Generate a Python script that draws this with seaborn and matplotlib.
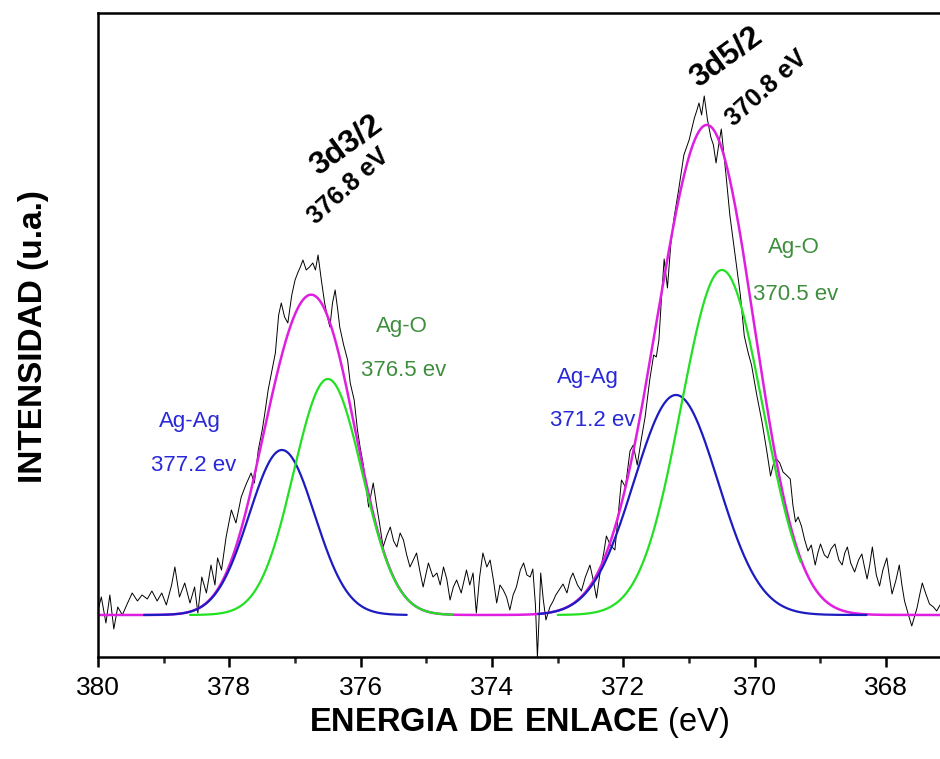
import numpy as np
import pandas as pd
import matplotlib
matplotlib.use("Agg")
import matplotlib.pyplot as plt
from matplotlib.ticker import MultipleLocator
import seaborn as sns

# Measured XPS spectrum (Ag 3d region): binding energy (eV) and intensity (a.u., baseline = 0)
energy = [
    380.00, 379.95, 379.88, 379.82, 379.76, 379.70, 379.63, 379.55, 379.48, 379.40,
    379.33, 379.25, 379.18, 379.10, 379.03, 378.96, 378.88, 378.83, 378.76, 378.68,
    378.60, 378.53, 378.48, 378.42, 378.35, 378.28, 378.22, 378.18, 378.12, 378.05,
    377.97, 377.90, 377.82, 377.75, 377.67, 377.62, 377.56, 377.50, 377.46, 377.41,
    377.36, 377.30, 377.25, 377.21, 377.16, 377.11, 377.05, 377.00, 376.96, 376.92,
    376.88, 376.83, 376.78, 376.73, 376.69, 376.65, 376.60, 376.55, 376.50, 376.47,
    376.43, 376.39, 376.35, 376.32, 376.26, 376.20, 376.16, 376.10, 376.05, 376.01,
    375.96, 375.92, 375.88, 375.84, 375.81, 375.76, 375.71, 375.66, 375.60, 375.55,
    375.50, 375.45, 375.40, 375.35, 375.30, 375.25, 375.20, 375.15, 375.10, 375.05,
    375.01, 374.97, 374.90, 374.84, 374.79, 374.74, 374.69, 374.64, 374.59, 374.54,
    374.47, 374.39, 374.34, 374.29, 374.24, 374.19, 374.14, 374.08, 374.03, 373.98,
    373.93, 373.88, 373.83, 373.78, 373.73, 373.68, 373.63, 373.57, 373.52, 373.47,
    373.42, 373.38, 373.34, 373.31, 373.28, 373.26, 373.22, 373.18, 373.12, 373.07,
    373.03, 372.97, 372.92, 372.86, 372.81, 372.77, 372.70, 372.64, 372.58, 372.51,
    372.46, 372.41, 372.35, 372.30, 372.26, 372.20, 372.13, 372.08, 372.03, 371.97,
    371.90, 371.85, 371.79, 371.73, 371.67, 371.60, 371.54, 371.50, 371.46, 371.42,
    371.38, 371.33, 371.28, 371.23, 371.16, 371.08, 371.00, 370.92, 370.88, 370.85,
    370.81, 370.77, 370.72, 370.67, 370.63, 370.59, 370.55, 370.51, 370.47, 370.44,
    370.38, 370.30, 370.22, 370.16, 370.10, 370.05, 369.97, 369.89, 369.82, 369.76,
    369.72, 369.68, 369.62, 369.57, 369.52, 369.46, 369.42, 369.38, 369.34, 369.29,
    369.24, 369.19, 369.14, 369.08, 369.04, 369.00, 368.94, 368.89, 368.84, 368.78,
    368.72, 368.67, 368.63, 368.59, 368.54, 368.48, 368.42, 368.37, 368.33, 368.29,
    368.25, 368.21, 368.15, 368.10, 368.05, 367.99, 367.95, 367.91, 367.85, 367.80,
    367.76, 367.72, 367.66, 367.61, 367.57, 367.53, 367.49, 367.45, 367.40, 367.34,
    367.28, 367.23, 367.18,
]
intensity = [
    5, 18, -8, 20, -14, 8, 0, 12, 22, 14,
    20, 16, 24, 14, 22, 10, 30, 48, 18, 32,
    12, 28, 2, 38, 22, 50, 30, 57, 45, 78,
    105, 92, 118, 130, 142, 132, 165, 185, 202, 225,
    242, 262, 300, 312, 298, 292, 320, 335, 342, 348,
    355, 345, 348, 352, 345, 360, 335, 312, 296, 288,
    312, 325, 305, 288, 270, 255, 232, 215, 185, 168,
    150, 128, 108, 122, 132, 110, 90, 68, 80, 88,
    74, 68, 82, 75, 60, 48, 55, 62, 44, 28,
    40, 52, 38, 42, 30, 48, 36, 15, 28, 35,
    22, 45, 30, 42, 2, 38, 62, 48, 55, 35,
    12, 30, 25, 18, 5, 20, 28, 45, 52, 40,
    38, 46, 10, -42, 5, 42, 15, -5, 8, 14,
    20, 26, 31, 22, 36, 42, 30, 24, 38, 50,
    35, 17, 45, 62, 79, 70, 65, 100, 135, 128,
    164, 170, 150, 175, 198, 235, 260, 258, 275, 318,
    356, 327, 370, 397, 425, 460, 475, 497, 505, 512,
    500, 519, 495, 478, 470, 452, 470, 486, 460, 441,
    400, 360, 320, 279, 262, 250, 220, 193, 165, 139,
    150, 157, 152, 143, 140, 136, 110, 93, 98, 89,
    75, 64, 70, 50, 62, 71, 60, 57, 66, 71,
    55, 50, 62, 68, 52, 43, 55, 61, 48, 36,
    50, 68, 40, 29, 45, 57, 38, 21, 35, 50,
    30, 14, 0, -11, -2, 7, 20, 32, 22, 11,
    8, 4, 10,
]

# Fitted Gaussian components: centre (eV), height (a.u.), width sigma (eV)
comp_names = ["Ag-Ag 3d3/2", "Ag-O 3d3/2", "Ag-Ag 3d5/2", "Ag-O 3d5/2"]
comp_center = [377.2, 376.5, 371.2, 370.5]
comp_height = [165, 236, 220, 345]
comp_sigma = [0.50, 0.52, 0.64, 0.62]
comp_kind = ["Ag-Ag", "Ag-O", "Ag-Ag", "Ag-O"]
# energy window over which each component curve is drawn
comp_window = [(379.3, 375.3), (378.6, 374.6), (373.3, 368.3), (373.0, 369.3)]

XMIN, XMAX = 380.0, 367.18

sns.set_theme(style="white")
plt.rcParams["font.family"] = ["Liberation Sans", "DejaVu Sans"]
plt.rcParams["mathtext.fontset"] = "custom"
plt.rcParams["mathtext.rm"] = "Liberation Sans"
plt.rcParams["mathtext.bf"] = "Liberation Sans:bold"

fig = plt.figure(figsize=(9.4, 7.59), dpi=100)
ax = fig.add_axes([0.1043, 0.1344, 0.8957, 0.8485])

grid = np.linspace(XMAX, XMIN, 1400)


def gauss(x, c, h, s):
    return h * np.exp(-((x - c) ** 2) / (2 * s ** 2))


envelope = np.zeros_like(grid)
for c, h, s in zip(comp_center, comp_height, comp_sigma):
    envelope += gauss(grid, c, h, s)

spec = pd.DataFrame({"E": energy, "I": intensity})
sns.lineplot(data=spec, x="E", y="I", ax=ax, color="black", lw=0.7,
             sort=False, estimator=None)

sns.lineplot(x=grid, y=envelope, ax=ax, color="#e01ee0", lw=1.8,
             estimator=None)

line_col = {"Ag-Ag": "#1c1cc0", "Ag-O": "#22e022"}
for kind_pass in ["Ag-Ag", "Ag-O"]:
    for c, h, s, k, (w0, w1) in zip(comp_center, comp_height, comp_sigma,
                                     comp_kind, comp_window):
        if k != kind_pass:
            continue
        xs = np.linspace(w1, w0, 500)
        sns.lineplot(x=xs, y=gauss(xs, c, h, s), ax=ax, color=line_col[k],
                     lw=1.6, estimator=None)

ax.set_xlim(XMIN, XMAX)
ax.set_ylim(-42, 602)

# Peak annotations
ax.text(376.22, 470, "3d3/2", rotation=36, ha="center", va="center",
        fontsize=23, fontweight="bold", color="black")
ax.text(376.18, 429, "376.8 eV", rotation=42, ha="center", va="center",
        fontsize=18, fontweight="bold", color="black")
ax.text(370.44, 558, "3d5/2", rotation=36, ha="center", va="center",
        fontsize=23, fontweight="bold", color="black")
ax.text(369.82, 527, "370.8 eV", rotation=42, ha="center", va="center",
        fontsize=18, fontweight="bold", color="black")

lab_col = {"Ag-Ag": "#2828d8", "Ag-O": "#3e8e3e"}
ax.text(378.6, 193, "Ag-Ag", ha="center", va="center", fontsize=16,
        color=lab_col["Ag-Ag"])
ax.text(378.55, 149, "377.2 ev", ha="center", va="center", fontsize=16,
        color=lab_col["Ag-Ag"])
ax.text(375.38, 288, "Ag-O", ha="center", va="center", fontsize=16,
        color=lab_col["Ag-O"])
ax.text(375.34, 244, "376.5 ev", ha="center", va="center", fontsize=16,
        color=lab_col["Ag-O"])
ax.text(372.54, 237, "Ag-Ag", ha="center", va="center", fontsize=16,
        color=lab_col["Ag-Ag"])
ax.text(372.47, 194, "371.2 ev", ha="center", va="center", fontsize=16,
        color=lab_col["Ag-Ag"])
ax.text(369.41, 367, "Ag-O", ha="center", va="center", fontsize=16,
        color=lab_col["Ag-O"])
ax.text(369.38, 320, "370.5 ev", ha="center", va="center", fontsize=16,
        color=lab_col["Ag-O"])

# Axes styling
for side in ["left", "bottom", "top"]:
    ax.spines[side].set_visible(True)
    ax.spines[side].set_color("black")
    ax.spines[side].set_linewidth(1.8)
ax.spines["right"].set_visible(False)

ax.xaxis.set_major_locator(MultipleLocator(2))
ax.xaxis.set_minor_locator(MultipleLocator(1))
ax.tick_params(axis="x", which="major", direction="out", length=7.5, width=1.8,
               labelsize=19, pad=6, bottom=True, colors="black")
ax.tick_params(axis="x", which="minor", direction="out", length=4.5, width=1.8,
               bottom=True)
ax.tick_params(axis="y", left=False, labelleft=False)
ax.set_yticks([])

ax.set_xlabel(r"$\mathbf{ENERGIA\ DE\ ENLACE}$ (eV)", fontsize=23.5,
              labelpad=4, color="black")
ax.set_ylabel("INTENSIDAD (u.a.)", fontsize=24, fontweight="bold",
              color="black")
ax.yaxis.set_label_coords(-0.058, 0.497)

fig.savefig("out.png", dpi=100)
